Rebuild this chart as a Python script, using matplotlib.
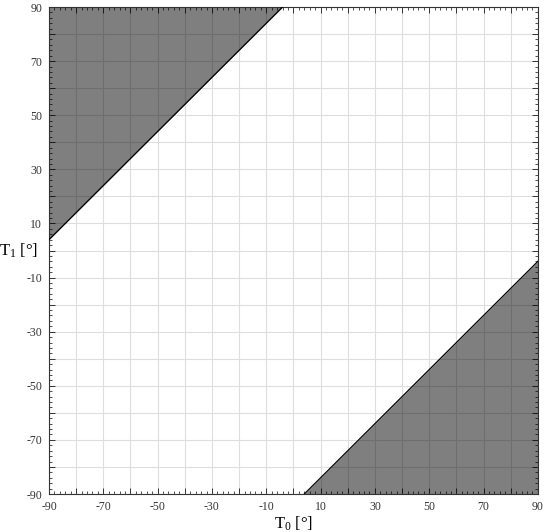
import matplotlib
matplotlib.use("Agg")
import matplotlib.pyplot as plt
from matplotlib.ticker import MultipleLocator, FuncFormatter

plt.rcParams['font.family'] = ['Liberation Serif', 'DejaVu Serif']
plt.rcParams['mathtext.fontset'] = 'custom'
plt.rcParams['mathtext.rm'] = 'Liberation Serif'
plt.rcParams['mathtext.it'] = 'Liberation Serif'

# Boundary lines of shaded regions
upper_T0 = [-90, -4]
upper_T1 = [4, 90]
lower_T0 = [4, 90]
lower_T1 = [-90, -4]
label_ticks = [-90, -70, -50, -30, -10, 10, 30, 50, 70, 90]

fig = plt.figure(figsize=(5.5, 5.32), dpi=100)
ax = fig.add_axes([0.089, 0.0714, 0.889, 0.9154])

ax.fill_between(upper_T0, upper_T1, 90, color='black', alpha=0.5, lw=0, zorder=2)
ax.fill_between(lower_T0, lower_T1, -90, color='black', alpha=0.5, lw=0, zorder=2)
ax.plot(upper_T0, upper_T1, color='black', lw=0.9, zorder=3)
ax.plot(lower_T0, lower_T1, color='black', lw=0.9, zorder=3)

ax.set_xlim(-90, 90)
ax.set_ylim(-90, 90)
for axis in (ax.xaxis, ax.yaxis):
    axis.set_major_locator(MultipleLocator(10))
    axis.set_minor_locator(MultipleLocator(2))
    axis.set_major_formatter(FuncFormatter(
        lambda v, p: f"{int(round(v))}" if int(round(v)) in label_ticks else ""))

ax.grid(True, which='major', color='#dedede', lw=0.8, zorder=1)
ax.set_axisbelow(True)
ax.tick_params(which='both', direction='in', top=True, right=True, color='#333333')
ax.tick_params(which='major', length=4, width=0.7, labelsize=8.5, pad=5,
               labelcolor='#333333')
ax.tick_params(which='minor', length=2, width=0.6)
for s in ax.spines.values():
    s.set_linewidth(0.8)
    s.set_color('#333333')

ax.set_xlabel(r'T$_0$ [°]', fontsize=12, labelpad=1)
ax.set_ylabel(r'T$_1$ [°]', fontsize=12, rotation=0, ha='center', va='center')
ax.yaxis.set_label_coords(-0.063, 0.50)

fig.savefig('out.png', dpi=100)
